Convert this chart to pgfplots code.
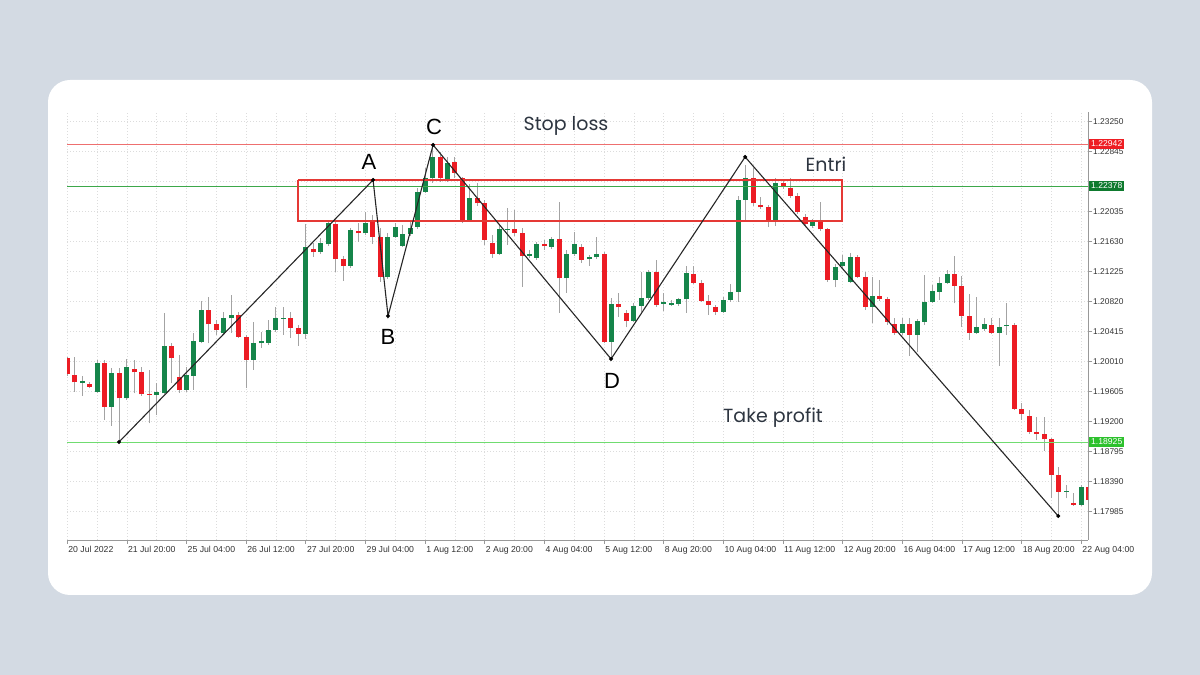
\documentclass[border=0pt]{standalone}
\usepackage{pgfplots}
\pgfplotsset{compat=1.18}
\usepackage{pgfplotstable}
\usepackage{fontspec}
\setmainfont{Liberation Sans}
\newfontfamily\popfont{Poppins}
\definecolor{bg}{HTML}{D3DAE3}
\definecolor{upc}{HTML}{15854A}
\definecolor{dnc}{HTML}{EC1C24}
\definecolor{wick}{HTML}{A3A3A3}
\definecolor{gridc}{HTML}{DCDCDC}
\definecolor{slc}{HTML}{EE6F6F}
\definecolor{enc}{HTML}{3DA84A}
\definecolor{tpc}{HTML}{70DC70}
\definecolor{rectc}{HTML}{E53935}
\definecolor{txtc}{HTML}{2D3540}
\definecolor{boxred}{HTML}{EE1D23}
\definecolor{boxdg}{HTML}{0E7A2E}
\definecolor{boxlg}{HTML}{2DC12D}

\pgfplotstableread{
i o h l c
0 1.20056 1.20073 1.19817 1.19844
1 1.19831 1.20069 1.19605 1.19732
2 1.19727 1.19821 1.19547 1.19750
3 1.19709 1.19740 1.19651 1.19673
4 1.19605 1.20033 1.19583 1.19997
5 1.19997 1.20033 1.19223 1.19399
6 1.19399 1.19921 1.19146 1.19853
7 1.19853 1.19921 1.18926 1.19516
8 1.19516 1.20051 1.19493 1.19943
9 1.19916 1.20033 1.19583 1.19867
10 1.19867 1.19943 1.19547 1.19570
11 1.19574 1.19898 1.19178 1.19561
12 1.19561 1.19718 1.19291 1.19597
13 1.19583 1.20663 1.19574 1.20226
14 1.20226 1.20258 1.19718 1.20056
15 1.19808 1.20101 1.19588 1.19628
16 1.19628 1.19943 1.19601 1.19831
17 1.19821 1.20394 1.19628 1.20290
18 1.20280 1.20834 1.20258 1.20708
19 1.20708 1.20888 1.20258 1.20515
20 1.20515 1.20573 1.20371 1.20434
21 1.20394 1.20685 1.20371 1.20604
22 1.20596 1.20911 1.20398 1.20641
23 1.20641 1.20685 1.20330 1.20348
24 1.20348 1.20371 1.19651 1.20033
25 1.20033 1.20550 1.19898 1.20258
26 1.20258 1.20415 1.20195 1.20290
27 1.20267 1.20573 1.20236 1.20438
28 1.20438 1.20749 1.20411 1.20600
29 1.20596 1.20742 1.20371 1.20604
30 1.20604 1.20685 1.20330 1.20469
31 1.20469 1.20506 1.20226 1.20384
32 1.20384 1.21869 1.20317 1.21563
33 1.21532 1.21613 1.21424 1.21487
34 1.21495 1.21680 1.21464 1.21608
35 1.21595 1.21923 1.21572 1.21878
36 1.21865 1.21896 1.21225 1.21396
37 1.21396 1.21437 1.21100 1.21306
38 1.21306 1.21815 1.21275 1.21788
39 1.21775 1.21883 1.21630 1.21743
40 1.21743 1.22031 1.21721 1.21878
41 1.21892 1.21991 1.21599 1.21698
42 1.21698 1.21815 1.21086 1.21158
43 1.21158 1.21748 1.21127 1.21698
44 1.21698 1.21883 1.21680 1.21825
45 1.21576 1.21856 1.21559 1.21734
46 1.21734 1.21896 1.21707 1.21811
47 1.21833 1.22355 1.21802 1.22305
48 1.22305 1.22625 1.22288 1.22486
49 1.22486 1.22936 1.22423 1.22778
50 1.22778 1.22845 1.22436 1.22486
51 1.22463 1.22774 1.22436 1.22699
52 1.22710 1.22774 1.22490 1.22558
53 1.22486 1.22508 1.21878 1.21923
54 1.21923 1.22409 1.21896 1.22220
55 1.22224 1.22423 1.22112 1.22149
56 1.22153 1.22193 1.21586 1.21653
57 1.21608 1.21721 1.21410 1.21468
58 1.21468 1.21856 1.21451 1.21798
59 1.21788 1.22081 1.21586 1.21798
60 1.21798 1.22058 1.21707 1.21752
61 1.21752 1.21815 1.21023 1.21437
62 1.21437 1.21518 1.21410 1.21464
63 1.21410 1.21630 1.21383 1.21595
64 1.21595 1.21653 1.21518 1.21568
65 1.21563 1.21698 1.21532 1.21662
66 1.21662 1.22170 1.20668 1.21136
67 1.21136 1.21518 1.20938 1.21464
68 1.21464 1.21765 1.21437 1.21595
69 1.21559 1.21599 1.21347 1.21387
70 1.21396 1.21451 1.21302 1.21424
71 1.21420 1.21698 1.21396 1.21460
72 1.21460 1.21491 1.20262 1.20280
73 1.20280 1.20866 1.20078 1.20785
74 1.20785 1.20942 1.20618 1.20744
75 1.20672 1.20708 1.20474 1.20564
76 1.20564 1.20803 1.20546 1.20766
77 1.20766 1.21225 1.20685 1.20866
78 1.20866 1.21248 1.20843 1.21217
79 1.21217 1.21383 1.20749 1.20776
80 1.20789 1.20933 1.20699 1.20812
81 1.20782 1.20843 1.20762 1.20803
82 1.20789 1.20870 1.20762 1.20852
83 1.20852 1.21302 1.20668 1.21203
84 1.21190 1.21302 1.21059 1.21077
85 1.21077 1.21113 1.20816 1.20834
86 1.20834 1.20911 1.20641 1.20776
87 1.20744 1.20776 1.20641 1.20685
88 1.20685 1.20884 1.20668 1.20843
89 1.20843 1.21059 1.20816 1.20955
90 1.20955 1.22247 1.20820 1.22193
91 1.22193 1.22666 1.21923 1.22486
92 1.22486 1.22625 1.22112 1.22149
93 1.22126 1.22234 1.22072 1.22095
94 1.22095 1.22126 1.21833 1.21900
95 1.21900 1.22486 1.21842 1.22418
96 1.22427 1.22463 1.22342 1.22364
97 1.22359 1.22486 1.22220 1.22247
98 1.22247 1.22288 1.22004 1.22035
99 1.21968 1.22004 1.21829 1.21869
100 1.21842 1.21937 1.21815 1.21900
101 1.21900 1.22170 1.21775 1.21798
102 1.21798 1.21815 1.21086 1.21113
103 1.21113 1.21329 1.21015 1.21295
104 1.21298 1.21451 1.21275 1.21360
105 1.21090 1.21478 1.21073 1.21428
106 1.21428 1.21451 1.21140 1.21158
107 1.21158 1.21221 1.20708 1.20753
108 1.20753 1.21158 1.20528 1.20897
109 1.20897 1.21113 1.20830 1.20852
110 1.20852 1.20884 1.20506 1.20546
111 1.20523 1.20596 1.20371 1.20398
112 1.20398 1.20596 1.20371 1.20523
113 1.20523 1.20596 1.20087 1.20375
114 1.20375 1.20587 1.20145 1.20560
115 1.20550 1.21181 1.20506 1.20820
116 1.20820 1.21046 1.20803 1.20965
117 1.20955 1.21158 1.20843 1.21079
118 1.21079 1.21248 1.21059 1.21194
119 1.21194 1.21437 1.20796 1.21036
120 1.21036 1.21167 1.20483 1.20627
121 1.20627 1.20924 1.20303 1.20398
122 1.20404 1.20884 1.20384 1.20474
123 1.20445 1.20596 1.20425 1.20515
124 1.20512 1.20596 1.20384 1.20404
125 1.20404 1.20596 1.19952 1.20483
126 1.20489 1.20803 1.20371 1.20499
127 1.20501 1.20533 1.19358 1.19376
128 1.19376 1.19448 1.19223 1.19300
129 1.19281 1.19358 1.19034 1.19061
130 1.19065 1.19268 1.18953 1.19031
131 1.19031 1.19268 1.18809 1.18960
132 1.18960 1.18980 1.18170 1.18481
133 1.18481 1.18589 1.17941 1.18255
134 1.18255 1.18346 1.18166 1.18262
135 1.18109 1.18238 1.18062 1.18076
136 1.18076 1.18346 1.18062 1.18319
137 1.18319 1.18346 1.17873 1.18143
}\candles

\begin{document}
\begin{tikzpicture}[x=1pt,y=1pt]
\fill[bg] (0,0) rectangle (1200,675);
\fill[white, rounded corners=22pt] (48,80) rectangle (1152,595);
\begin{axis}[
  at={(67.2pt,135pt)}, anchor=south west,
  width=1020.8pt, height=428pt, scale only axis,
  xmin=0, xmax=136.9, ymin=1.17603, ymax=1.23381,
  axis x line*=bottom, axis y line*=right,
  axis line style={draw=black!40, line width=0.9pt},
  xtick={0,8,...,136},
  xticklabels={20 Jul 2022,21 Jul 20:00,25 Jul 04:00,26 Jul 12:00,27 Jul 20:00,29 Jul 04:00,1 Aug 12:00,2 Aug 20:00,4 Aug 04:00,5 Aug 12:00,8 Aug 20:00,10 Aug 04:00,11 Aug 12:00,12 Aug 20:00,16 Aug 04:00,17 Aug 12:00,18 Aug 20:00,22 Aug 04:00},
  minor x tick num=1,
  ytick={1.17985,1.18390,1.18795,1.19200,1.19605,1.20010,1.20415,1.20820,1.21225,1.21630,1.22035,1.22440,1.22845,1.23250},
  yticklabels={1.17985,1.18390,1.18795,1.19200,1.19605,1.20010,1.20415,1.20820,1.21225,1.21630,1.22035,{},1.22845,1.23250},
  xmajorgrids, xminorgrids, ymajorgrids,
  grid style={gridc, line width=0.6pt, dash pattern=on 1pt off 2pt},
  minor grid style={gridc, line width=0.6pt, dash pattern=on 1pt off 2pt},
  tick align=outside, major tick length=4pt, minor tick length=0pt,
  tick style={black!40, line width=0.7pt},
  xticklabel style={anchor=north west, font=\fontsize{8.7}{10}\selectfont, text=black!80, inner sep=1pt, yshift=-1pt},
  yticklabel style={anchor=west, font=\fontsize{8.4}{10}\selectfont, text=black!80, inner sep=1pt},
  clip=true,
]
% wicks
\addplot[draw=none, mark=none, forget plot,
  error bars/.cd, y dir=plus, y explicit, error mark=none,
  error bar style={draw=wick, line width=1pt}]
  table[x=i, y=l, y error plus expr=\thisrow{h}-\thisrow{l}] {\candles};
% bullish bodies
\addplot[draw=none, mark=none, forget plot,
  restrict expr to domain={\thisrow{c}-\thisrow{o}}{0:1},
  error bars/.cd, y dir=plus, y explicit, error mark=none,
  error bar style={draw=upc, line width=5pt}]
  table[x=i, y=o, y error plus expr=\thisrow{c}-\thisrow{o}] {\candles};
% bearish bodies
\addplot[draw=none, mark=none, forget plot,
  restrict expr to domain={\thisrow{o}-\thisrow{c}}{0:1},
  error bars/.cd, y dir=plus, y explicit, error mark=none,
  error bar style={draw=dnc, line width=5pt}]
  table[x=i, y=c, y error plus expr=\thisrow{o}-\thisrow{c}] {\candles};
% levels
\addplot[draw=slc, line width=1.6pt, mark=none, forget plot] coordinates {(0,1.22942) (136.9,1.22942)};
\addplot[draw=enc, line width=0.9pt, mark=none, forget plot] coordinates {(0,1.22378) (136.9,1.22378)};
\addplot[draw=tpc, line width=1.1pt, mark=none, forget plot] coordinates {(0,1.18925) (136.9,1.18925)};
% entry zone
\addplot[draw=rectc, line width=1.4pt, mark=none, forget plot] coordinates {(30.96,1.22463) (103.93,1.22463) (103.93,1.21911) (30.96,1.21911) (30.96,1.22463)};
% pattern
\addplot[draw=black!85, line width=1.1pt, mark=*, mark size=1.4pt, mark options={fill=black, draw=black}, forget plot] coordinates {(6.95,1.18926) (41.02,1.22463) (43.03,1.20627) (49.07,1.22936) (72.94,1.20047) (90.92,1.22774) (132.9,1.17927)};
\end{axis}
% price boxes
\node[fill=boxred, text=white, font=\fontsize{8.6}{10}\selectfont, inner xsep=2pt, inner ysep=2.2pt, anchor=west] at (1089,531) {1.22942};
\node[fill=boxdg, text=white, font=\fontsize{8.6}{10}\selectfont, inner xsep=2pt, inner ysep=2.2pt, anchor=west] at (1089,489) {1.22378};
\node[fill=boxlg, text=white, font=\fontsize{8.6}{10}\selectfont, inner xsep=2pt, inner ysep=2.2pt, anchor=west] at (1089,233) {1.18925};
% annotations
\node[text=txtc, font=\popfont\fontsize{19}{22}\selectfont] at (566,549) {Stop loss};
\node[text=txtc, font=\popfont\fontsize{19}{22}\selectfont] at (826,511) {Entri};
\node[text=txtc, font=\popfont\fontsize{19}{22}\selectfont] at (773,257) {Take profit};
\node[font=\fontsize{22}{24}\selectfont] at (369,513) {A};
\node[font=\fontsize{22}{24}\selectfont] at (388,338) {B};
\node[font=\fontsize{22}{24}\selectfont] at (434,548) {C};
\node[font=\fontsize{22}{24}\selectfont] at (612,294) {D};
\pgfresetboundingbox
\useasboundingbox (0,0) rectangle (1200,675);
\end{tikzpicture}
\end{document}
